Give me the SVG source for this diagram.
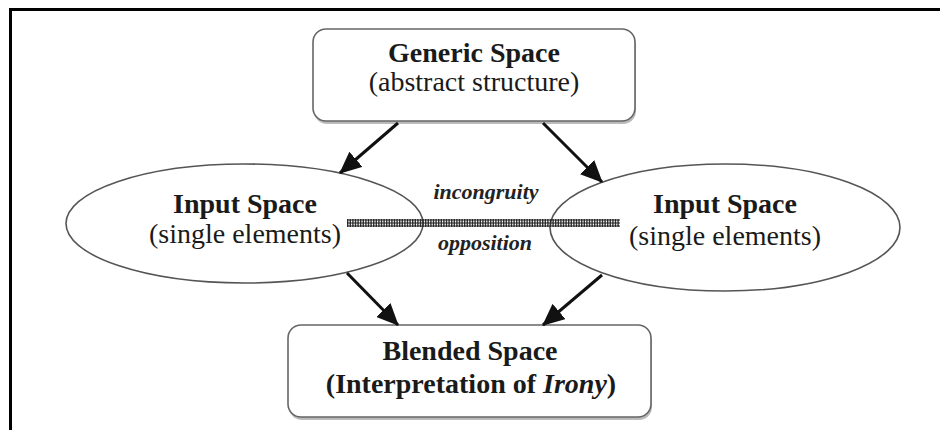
<svg xmlns="http://www.w3.org/2000/svg" width="940" height="430" viewBox="0 0 940 430">
<defs>
<style>
.box{fill:#fff;stroke:#666;stroke-width:1.6}
.shadow{fill:#bbb}
.ell{fill:#fff;stroke:#555;stroke-width:1.6}
.t{font-family:"Liberation Serif","Times New Roman",serif;font-size:28px;fill:#1a1a1a;text-anchor:middle}
.b{font-weight:bold}
.lbl{font-family:"Liberation Serif","Times New Roman",serif;font-size:22px;font-weight:bold;font-style:italic;fill:#222;text-anchor:middle}
.arr{stroke:#111;stroke-width:3;fill:none;marker-end:url(#ah)}
</style>
<marker id="ah" markerUnits="userSpaceOnUse" markerWidth="24" markerHeight="20" refX="21" refY="10" orient="auto">
<path d="M0,0 L22,10 L0,20 z" fill="#111"/>
</marker>
</defs>
<rect width="940" height="430" fill="#fff"/>
<g id="frame">
<path d="M10.5,430 V9.5 H940" fill="none" stroke="#000" stroke-width="3"/>
</g>
<g id="generic">
<rect class="shadow" x="314" y="32" width="322" height="92" rx="13"/>
<rect class="box" x="313" y="29" width="322" height="92" rx="13"/>
<text class="t b" x="474" y="62" font-size="26">Generic Space</text>
<text class="t" x="474" y="91" font-size="26">(abstract structure)</text>
</g>
<g id="input-left">
<ellipse class="ell" cx="244.5" cy="223.5" rx="178.5" ry="59.5"/>
<text class="t b" x="245" y="213">Input Space</text>
<text class="t" x="245" y="243">(single elements)</text>
</g>
<g id="input-right">
<ellipse class="ell" cx="725" cy="227.5" rx="175" ry="63.5"/>
<text class="t b" x="725" y="213">Input Space</text>
<text class="t" x="725" y="245">(single elements)</text>
</g>
<g id="blended">
<rect class="shadow" x="289" y="328" width="363" height="92" rx="13"/>
<rect class="box" x="288" y="325" width="363" height="92" rx="13"/>
<text class="t b" x="470" y="360">Blended Space</text>
<text class="t b" x="471" y="393">(Interpretation of <tspan font-style="italic">Irony</tspan>)</text>
</g>
<g id="connectors">
<line class="arr" x1="398" y1="123" x2="340" y2="173"/>
<line class="arr" x1="543" y1="123" x2="602" y2="182"/>
<line class="arr" x1="347" y1="273" x2="398" y2="325"/>
<line class="arr" x1="602" y1="275" x2="543" y2="325"/>
<g id="opposition-link">
<line x1="347" y1="223" x2="620" y2="223" stroke="#333" stroke-width="8" stroke-dasharray="1.4 1.2"/>
<line x1="347" y1="220" x2="620" y2="220" stroke="#222" stroke-width="1"/>
<line x1="347" y1="223" x2="620" y2="223" stroke="#222" stroke-width="1"/>
<line x1="347" y1="226" x2="620" y2="226" stroke="#222" stroke-width="1"/>
</g>
<text class="lbl" x="486" y="199">incongruity</text>
<text class="lbl" x="485" y="250">opposition</text>
</g>
</svg>
